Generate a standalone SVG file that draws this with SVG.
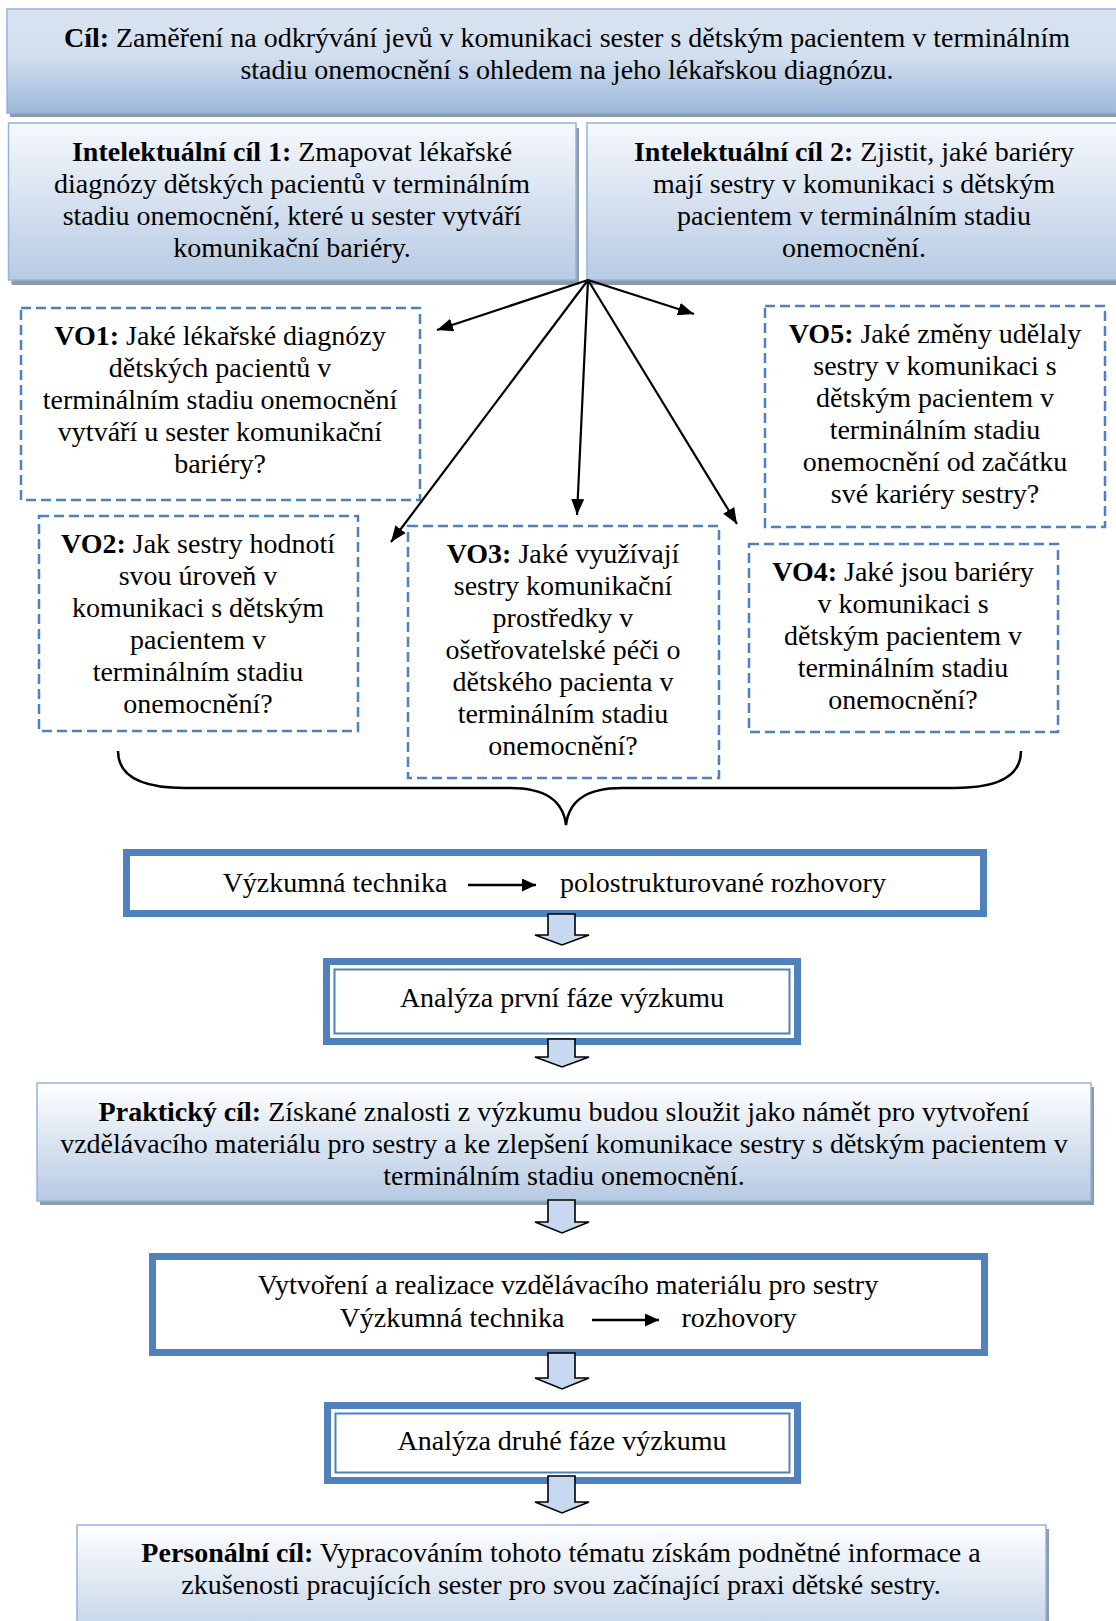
<svg xmlns="http://www.w3.org/2000/svg" width="1116" height="1621" viewBox="0 0 1116 1621">
  <defs>
    <style>
      text { font-family: "Liberation Serif", "Times New Roman", serif; font-size: 28px; fill: #000; text-anchor: middle; transform: translate(0px, 1px); }
      .b { font-weight: bold; }
      .goal { stroke: #95b3d7; stroke-width: 1.5; }
      .shadow { fill: #8e9aa9; }
      .dash { fill: #fff; stroke: #4f81bd; stroke-width: 2.5; stroke-dasharray: 10 5; }
      .thick { fill: #fff; stroke: #4f81bd; stroke-width: 7; }
      .thin { fill: none; stroke: #4f81bd; stroke-width: 2; }
      .conn { stroke: #000; stroke-width: 2.2; fill: none; }
      .tconn { stroke: #000; stroke-width: 2.6; fill: none; }
      .blk { fill: #c6d9f1; stroke: #000; stroke-width: 1.6; stroke-linejoin: miter; }
      .brace { fill: none; stroke: #000; stroke-width: 2.5; }
    </style>
    <linearGradient id="gTop" x1="0" y1="0" x2="0" y2="1">
      <stop offset="0" stop-color="#dae4f1"/>
      <stop offset="0.45" stop-color="#d2dfee"/>
      <stop offset="1" stop-color="#9bb8dc"/>
    </linearGradient>
    <linearGradient id="gIc" x1="0" y1="0" x2="0" y2="1">
      <stop offset="0" stop-color="#f6f8fc"/>
      <stop offset="1" stop-color="#b7cbe4"/>
    </linearGradient>
    <linearGradient id="gPr" x1="0" y1="0" x2="0" y2="1">
      <stop offset="0" stop-color="#ffffff"/>
      <stop offset="1" stop-color="#b6cae3"/>
    </linearGradient>
    <marker id="ah" markerUnits="userSpaceOnUse" markerWidth="18" markerHeight="14" refX="16" refY="6.5" orient="auto">
      <path d="M0,0 L16,6.5 L0,13 z" fill="#000"/>
    </marker>
    <marker id="ahs" markerUnits="userSpaceOnUse" markerWidth="16" markerHeight="14" refX="14" refY="6.5" orient="auto">
      <path d="M0,0 L14,6.5 L0,13 z" fill="#000"/>
    </marker>
  </defs>

  <rect width="1116" height="1621" fill="#fff"/>

  <!-- main goal -->
  <g id="goal">
    <rect class="shadow" x="10" y="13" width="1130" height="104"/>
    <rect class="goal" x="7" y="9" width="1130" height="104" fill="url(#gTop)"/>
    <text x="567" y="46"><tspan class="b">Cíl:</tspan> Zaměření na odkrývání jevů v komunikaci sester s dětským pacientem v terminálním</text>
    <text x="567" y="78">stadiu onemocnění s ohledem na jeho lékařskou diagnózu.</text>
  </g>

  <!-- intellectual goals -->
  <g id="ic1">
    <rect class="shadow" x="11.5" y="128" width="567.5" height="157"/>
    <rect class="goal" x="8.5" y="123" width="567.5" height="157" fill="url(#gIc)"/>
    <text x="292" y="160"><tspan class="b">Intelektuální cíl 1:</tspan> Zmapovat lékařské</text>
    <text x="292" y="192">diagnózy dětských pacientů v terminálním</text>
    <text x="292" y="224">stadiu onemocnění, které u sester vytváří</text>
    <text x="292" y="256">komunikační bariéry.</text>
  </g>
  <g id="ic2">
    <rect class="shadow" x="590" y="128" width="540" height="157"/>
    <rect class="goal" x="587" y="123" width="540" height="157" fill="url(#gIc)"/>
    <text x="854" y="160"><tspan class="b">Intelektuální cíl 2:</tspan> Zjistit, jaké bariéry</text>
    <text x="854" y="192">mají sestry v komunikaci s dětským</text>
    <text x="854" y="224">pacientem v terminálním stadiu</text>
    <text x="854" y="256">onemocnění.</text>
  </g>

  <!-- research questions -->
  <g id="vo1">
    <rect class="dash" x="21" y="308" width="399" height="192"/>
    <text x="220" y="344"><tspan class="b">VO1:</tspan> Jaké lékařské diagnózy</text>
    <text x="220" y="376">dětských pacientů v</text>
    <text x="220" y="408">terminálním stadiu onemocnění</text>
    <text x="220" y="440">vytváří u sester komunikační</text>
    <text x="220" y="472">bariéry?</text>
  </g>
  <g id="vo5">
    <rect class="dash" x="765" y="306" width="340" height="221"/>
    <text x="935" y="342"><tspan class="b">VO5:</tspan> Jaké změny udělaly</text>
    <text x="935" y="374">sestry v komunikaci s</text>
    <text x="935" y="406">dětským pacientem v</text>
    <text x="935" y="438">terminálním stadiu</text>
    <text x="935" y="470">onemocnění od začátku</text>
    <text x="935" y="502">své kariéry sestry?</text>
  </g>
  <g id="vo2">
    <rect class="dash" x="39" y="516" width="319" height="215"/>
    <text x="198" y="552"><tspan class="b">VO2:</tspan> Jak sestry hodnotí</text>
    <text x="198" y="584">svou úroveň v</text>
    <text x="198" y="616">komunikaci s dětským</text>
    <text x="198" y="648">pacientem v</text>
    <text x="198" y="680">terminálním stadiu</text>
    <text x="198" y="712">onemocnění?</text>
  </g>
  <g id="vo3">
    <rect class="dash" x="408" y="526" width="311" height="252"/>
    <text x="563" y="562"><tspan class="b">VO3:</tspan> Jaké využívají</text>
    <text x="563" y="594">sestry komunikační</text>
    <text x="563" y="626">prostředky v</text>
    <text x="563" y="658">ošetřovatelské péči o</text>
    <text x="563" y="690">dětského pacienta v</text>
    <text x="563" y="722">terminálním stadiu</text>
    <text x="563" y="754">onemocnění?</text>
  </g>
  <g id="vo4">
    <rect class="dash" x="749" y="544" width="309" height="188"/>
    <text x="903" y="580"><tspan class="b">VO4:</tspan> Jaké jsou bariéry</text>
    <text x="903" y="612">v komunikaci s</text>
    <text x="903" y="644">dětským pacientem v</text>
    <text x="903" y="676">terminálním stadiu</text>
    <text x="903" y="708">onemocnění?</text>
  </g>

  <!-- research technique -->
  <g id="technika1">
    <rect class="thick" x="126.5" y="852.5" width="857" height="61"/>
    <text x="335" y="891">Výzkumná technika</text>
    <line class="tconn" x1="468" y1="885" x2="536" y2="885" marker-end="url(#ahs)"/>
    <text x="723" y="891">polostrukturované rozhovory</text>
  </g>

  <g id="analyza1">
    <rect class="thick" x="326.5" y="961.5" width="471" height="80"/>
    <rect class="thin" x="334.5" y="969.5" width="455" height="64"/>
    <text x="562" y="1006">Analýza první fáze výzkumu</text>
  </g>

  <g id="prakticky">
    <rect class="shadow" x="40" y="1087" width="1054" height="118"/>
    <rect class="goal" x="37" y="1083" width="1054" height="118" fill="url(#gPr)"/>
    <text x="564" y="1120"><tspan class="b">Praktický cíl:</tspan> Získané znalosti z výzkumu budou sloužit jako námět pro vytvoření</text>
    <text x="564" y="1152">vzdělávacího materiálu pro sestry a ke zlepšení komunikace sestry s dětským pacientem v</text>
    <text x="564" y="1184">terminálním stadiu onemocnění.</text>
  </g>

  <g id="technika2">
    <rect class="thick" x="152.5" y="1256.5" width="832" height="96"/>
    <text x="568" y="1293">Vytvoření a realizace vzdělávacího materiálu pro sestry</text>
    <text x="452" y="1326">Výzkumná technika</text>
    <line class="tconn" x1="592" y1="1320" x2="659" y2="1320" marker-end="url(#ahs)"/>
    <text x="739" y="1326">rozhovory</text>
  </g>

  <g id="analyza2">
    <rect class="thick" x="327.5" y="1405.5" width="470" height="75"/>
    <rect class="thin" x="335.5" y="1413.5" width="454" height="59"/>
    <text x="562" y="1449">Analýza druhé fáze výzkumu</text>
  </g>

  <g id="personalni">
    <rect class="shadow" x="80" y="1529" width="969" height="130"/>
    <rect class="goal" x="77" y="1525" width="969" height="130" fill="url(#gPr)"/>
    <text x="561" y="1561"><tspan class="b">Personální cíl:</tspan> Vypracováním tohoto tématu získám podnětné informace a</text>
    <text x="561" y="1593">zkušenosti pracujících sester pro svou začínající praxi dětské sestry.</text>
  </g>

  <!-- connectors -->
  <g id="connectors">
    <line class="conn" x1="588" y1="280" x2="437" y2="330" marker-end="url(#ah)"/>
    <line class="conn" x1="588" y1="280" x2="694" y2="314" marker-end="url(#ah)"/>
    <line class="conn" x1="588" y1="280" x2="577" y2="515" marker-end="url(#ah)"/>
    <line class="conn" x1="588" y1="280" x2="737" y2="524" marker-end="url(#ah)"/>
    <line class="conn" x1="588" y1="280" x2="391" y2="542" marker-end="url(#ah)"/>

    <path class="brace" d="M118,751 C118,775 140,788 185,788 L510,788 C545,788 563,800 566,825 C569,800 587,788 622,788 L955,788 C1000,788 1021,775 1021,751"/>

    <path class="blk" d="M548,914 H575 V935 H589 L562,945 L535,935 H548 Z"/>
    <path class="blk" d="M548,1039 H575 V1057 H589 L562,1067 L535,1057 H548 Z"/>
    <path class="blk" d="M548,1200 H575 V1222 H589 L562,1233 L535,1222 H548 Z"/>
    <path class="blk" d="M548,1353 H575 V1378 H589 L562,1389 L535,1378 H548 Z"/>
    <path class="blk" d="M548,1476 H575 V1502 H589 L562,1513 L535,1502 H548 Z"/>
  </g>
</svg>
